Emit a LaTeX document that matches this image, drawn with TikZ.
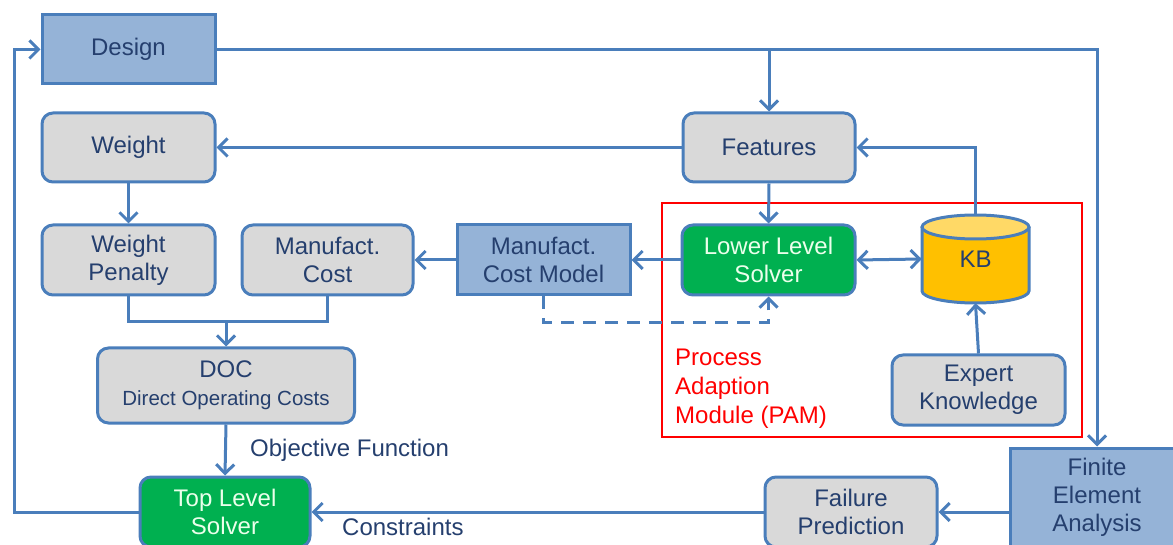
\documentclass[tikz,border=0pt]{standalone}
\usepackage{fontspec}
\setmainfont{Liberation Sans}
\usetikzlibrary{arrows.meta,calc}
\definecolor{linkblue}{HTML}{4A7EBB}
\definecolor{boxblue}{HTML}{95B3D7}
\definecolor{boxgray}{HTML}{D9D9D9}
\definecolor{solvgreen}{HTML}{00B050}
\definecolor{kbgold}{HTML}{FFC000}
\definecolor{kbtop}{HTML}{FFD966}
\definecolor{textnavy}{HTML}{253F6E}
\definecolor{pamred}{HTML}{FF0000}
\tikzset{
  base/.style={draw=linkblue, line width=3pt, text=textnavy, align=center,
    inner sep=0pt, font=\fontsize{24}{28}\selectfont},
  bluebox/.style={base, fill=boxblue},
  graybox/.style={base, fill=boxgray, rounded corners=11pt},
  greenbox/.style={base, fill=solvgreen, rounded corners=11pt, text=white!92!green},
  link/.style={draw=linkblue, line width=3pt},
  tip/.tip={Straight Barb[length=9pt,width=18pt,line width=3pt]},
  arr/.style={link, -tip},
  dblarr/.style={link, tip-tip},
  lbl/.style={text=textnavy, inner sep=0pt, font=\fontsize{24}{28}\selectfont},
}
\begin{document}
\begin{tikzpicture}[x=1pt,y=-1pt]
\useasboundingbox (0,0) rectangle (1173,545);

% PAM frame
\draw[pamred, line width=2.5pt] (662,203) rectangle (1082,437);
\node[text=pamred, align=left, anchor=west, inner sep=0pt,
  font=\fontsize{24}{29}\selectfont] (pam) at (675,389) {Process\\Adaption\\Module (PAM)};

% boxes
\node[bluebox, minimum width=173pt, minimum height=69pt] (design) at (128.5,49.5) {Design};
\node[graybox, minimum width=173pt, minimum height=69pt] (weight) at (128.5,147.5) {Weight};
\node[graybox, minimum width=172pt, minimum height=69pt] (features) at (769,147.5) {Features};
\node[graybox, minimum width=173pt, minimum height=70pt] (wpen) at (128.5,260) {Weight\\Penalty};
\node[graybox, minimum width=171pt, minimum height=70pt] (mcost) at (327.5,260) {Manufact.\\Cost};
\node[bluebox, minimum width=173pt, minimum height=70pt] (mcm) at (543.5,260) {Manufact.\\Cost Model};
\node[greenbox, minimum width=173pt, minimum height=70pt] (lls) at (768.5,260) {Lower Level\\Solver};
\node[graybox, minimum width=173pt, minimum height=70pt] (expert) at (978.5,390) {Expert\\Knowledge};
\node[graybox, minimum width=257pt, minimum height=75pt] (doc) at (226,385.5)
  {DOC\\{\fontsize{20.5}{25}\selectfont Direct Operating Costs}};
\node[greenbox, minimum width=170pt, minimum height=70pt] (tls) at (225,512) {Top Level\\Solver};
\node[graybox, minimum width=172pt, minimum height=70pt] (fail) at (851,512) {Failure\\Prediction};
\node[bluebox, minimum width=174pt, minimum height=98pt] (fea) at (1097,497) {Finite\\Element\\Analysis};

% knowledge base drum
\draw[link, fill=kbgold] (922,227) -- (922,291)
  arc[start angle=180, end angle=0, x radius=53.5, y radius=12] -- (1029,227);
\draw[link, fill=kbtop] (975.5,227) ellipse[x radius=53.5, y radius=12];
\node[lbl, minimum width=107pt, minimum height=88pt] (kb) at (975.5,259) {\raisebox{-6pt}{KB}};

% connectors
\coordinate (loopc) at (14,49.5);
\coordinate (mergey) at (0,322);
\coordinate (dashy) at (0,323);

\draw[arr] (design.east) -| (fea.north);
\draw[arr] (features.north |- design.east) -- (features.north);
\draw[arr] (tls.west) -| (loopc) -- (design.west);
\draw[arr] (features.west) -- (weight.east);
\draw[arr] (kb.north) |- (features.east);
\draw[arr] (features.south) -- (lls.north);
\draw[arr] (weight.south) -- (wpen.north);
\draw[link] (wpen.south) |- (mcost.south |- mergey) -- (mcost.south);
\draw[arr] (doc.north |- mergey) -- (doc.north);
\draw[arr] (mcm.west) -- (mcost.east);
\draw[arr] (lls.west) -- (mcm.east);
\draw[dblarr] (lls.east) -- (kb.west);
\draw[arr] (expert.north) -- (kb.south);
\draw[arr, dash pattern=on 13pt off 9pt]
  (mcm.south) |- (lls.south |- dashy) -- (lls.south);
\draw[arr] (doc.south) -- (tls.north);
\draw[arr] (fea.west |- fail.east) -- (fail.east);
\draw[arr] (fail.west) -- (tls.east);

% connector labels
\node[lbl, anchor=west] (objf) at (250,450) {Objective Function};
\node[lbl, anchor=west] (cons) at (342,527) {Constraints};
\end{tikzpicture}
\end{document}
